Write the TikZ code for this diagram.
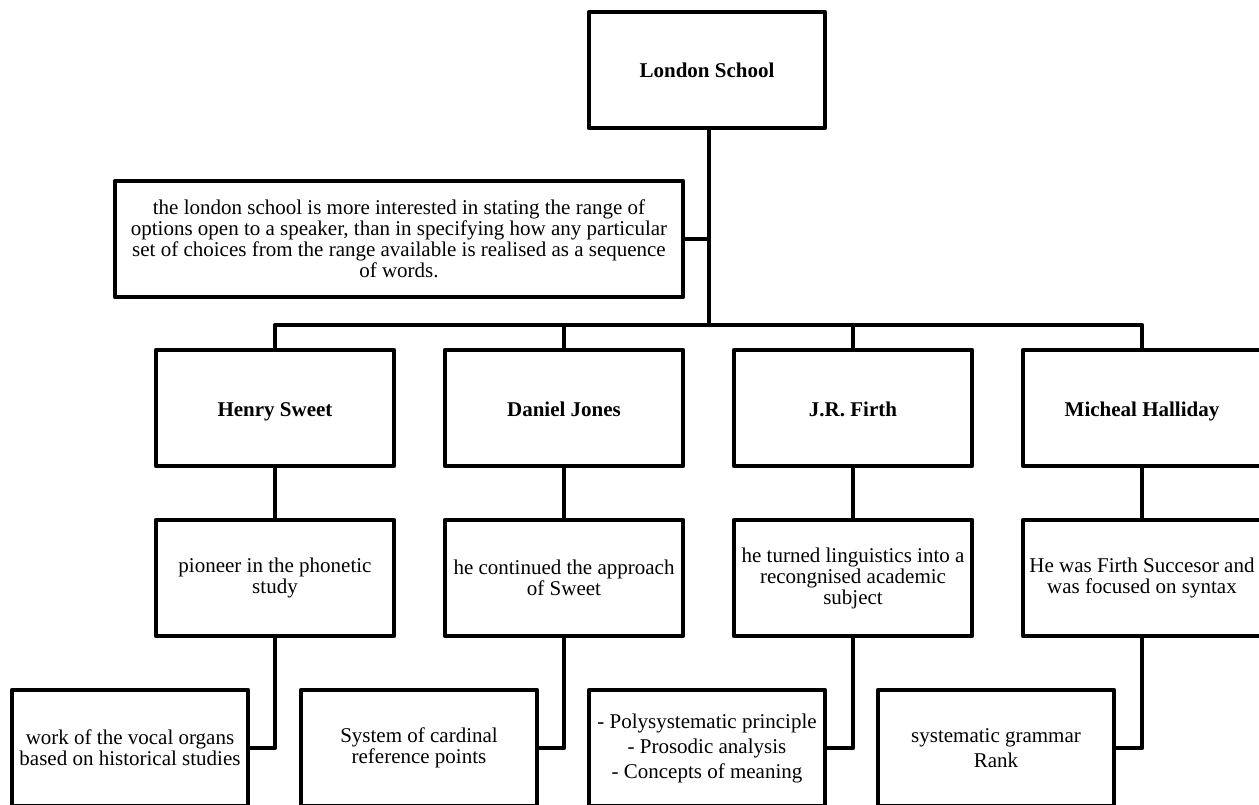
\documentclass[tikz,border=0pt]{standalone}
\usepackage{fontspec}
\setmainfont{Liberation Serif}
\usetikzlibrary{positioning}

\tikzset{
  lsbox/.style={draw,line width=4.5pt,line join=round,fill=white,inner sep=0pt,
    minimum width=238pt,minimum height=116pt,align=center,
    font=\fontsize{21}{21}\selectfont},
  hd/.style={font=\fontsize{21}{21}\selectfont\bfseries,text height=18pt,text depth=2pt},
  link/.style={line width=4.5pt,line join=round}
}

\begin{document}
\begin{tikzpicture}[x=1pt,y=-1pt,node distance=49.5pt and 46.5pt]

    \clip (0,0) rectangle (1259,805);
    \fill[white] (0,0) rectangle (1259,805);

    \node[lsbox,hd,minimum width=236pt] (ls) at (707,70) {London School};

    \node[lsbox,minimum width=568pt] (note) at (399,239) {the london school is more interested in stating the range of\\options open to a speaker, than in specifying how any particular\\set of choices from the range available is realised as a sequence\\of words.};

    % first row
    \node[lsbox,hd] (hs) at (275,408) {Henry Sweet};
    \node[lsbox,hd] (dj) [right=of hs] {Daniel Jones};
    \node[lsbox,hd] (jf) [right=of dj] {J.R. Firth};
    \node[lsbox,hd] (mh) [right=of jf] {Micheal Halliday};

    % second row
    \node[lsbox] (hs1) [below=of hs] {pioneer in the phonetic\\study};
    \node[lsbox] (dj1) [below=of dj] {he continued the approach\\of Sweet};
    \node[lsbox] (jf1) [below=of jf] {he turned linguistics into a\\recongnised academic\\subject};
    \node[lsbox] (mh1) [below=of mh] {He was Firth Succesor and\\was focused on syntax};

    % third row
    \node[lsbox,minimum width=236pt] (hs2) [below=of hs1,xshift=-145pt] {work of the vocal organs\\based on historical studies};
    \node[lsbox,minimum width=236pt] (dj2) [below=of dj1,xshift=-145pt] {System of cardinal\\reference points};
    \node[lsbox,minimum width=236pt] (jf2) [below=of jf1,xshift=-146pt] {- Polysystematic principle\\[4pt]- Prosodic analysis\\[4pt]- Concepts of meaning};
    \node[lsbox,minimum width=236pt] (mh2) [below=of mh1,xshift=-146pt] {systematic grammar\\[4pt]Rank};

    \coordinate (bus) at (709,325);

    \draw[link] (ls.south -| bus) -- (bus);
    \draw[link] (note.east) -- (note.east -| bus);
    \draw[link] (hs.north) |- (bus) -| (mh.north);
    \foreach \top in {dj,jf}
        \draw[link] (\top.north) -- (\top.north |- bus);

    \foreach \from/\to in {hs/hs1, dj/dj1, jf/jf1, mh/mh1}
        \draw[link] (\from) -- (\to);

    \foreach \from/\to in {hs1/hs2, dj1/dj2, jf1/jf2, mh1/mh2}
        \draw[link] (\from.south) |- (\to.east);

\end{tikzpicture}
\end{document}
